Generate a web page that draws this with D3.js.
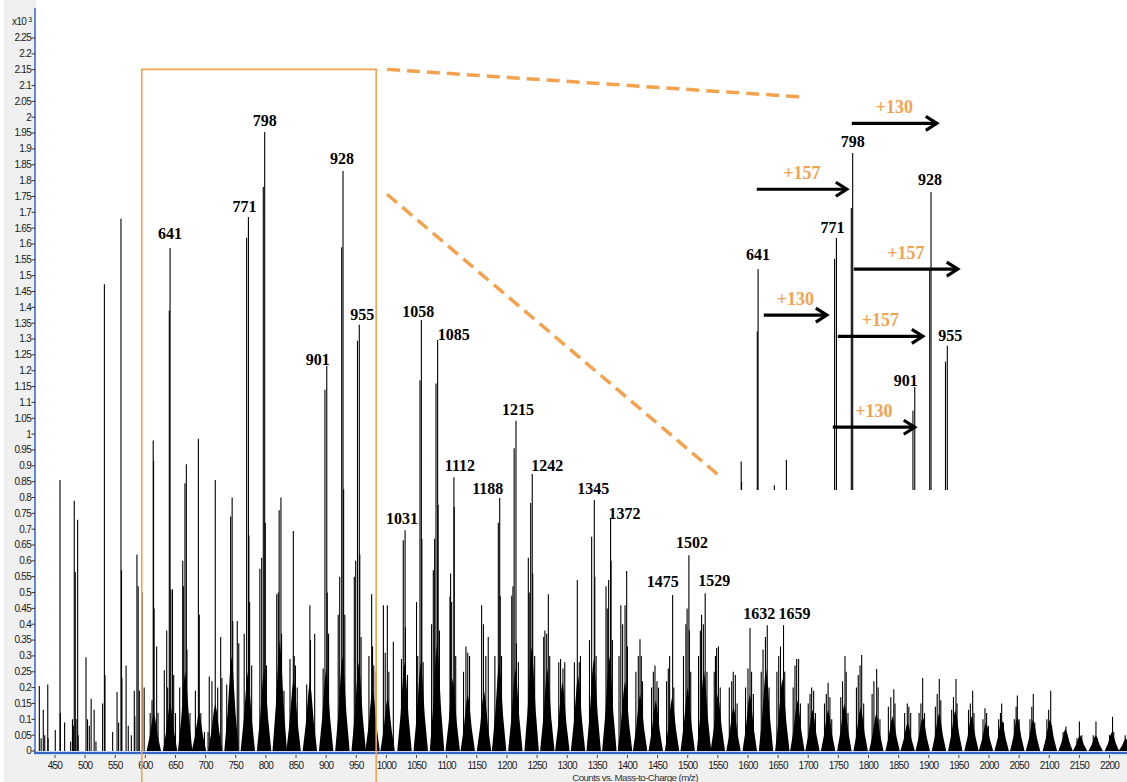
<!DOCTYPE html>
<html><head><meta charset="utf-8">
<script src="https://cdn.jsdelivr.net/npm/d3@7"></script>
<style>
html,body{margin:0;padding:0;background:#fff;}
svg{display:block;}
</style></head><body>
<svg id="chart" width="1127" height="782"></svg>
<script>
// ---- axis ticks ----
const xTicks = [450,500,550,600,650,700,750,800,850,900,950,1000,1050,1100,1150,1200,1250,1300,1350,1400,
  1450,1500,1550,1600,1650,1700,1750,1800,1850,1900,1950,2000,2050,2100,2150,2200];
const yTicks = [0,0.05,0.1,0.15,0.2,0.25,0.3,0.35,0.4,0.45,0.5,0.55,0.6,0.65,0.7,0.75,0.8,0.85,0.9,0.95,
  1,1.05,1.1,1.15,1.2,1.25,1.3,1.35,1.4,1.45,1.5,1.55,1.6,1.65,1.7,1.75,1.8,1.85,1.9,1.95,
  2,2.05,2.1,2.15,2.2,2.25];

// ---- spectrum lines: [m/z, counts x10^3] ----
const sticks = [
  [424,0.205],[427,0.04],[430.6,0.13],[433,0.05],[438,0.21],[438.6,0.04],[450.5,0.066],[458.3,0.855],[458.9,0.12],
  [466,0.09],[476,0.03],[479,0.1],[480.5,0.08],[482,0.79],[483.7,0.565],[485,0.1],[487.6,0.73],[488.5,0.05],
  [501.5,0.296],[504,0.1],[507,0.08],[510,0.165],[515,0.13],[518,0.03],[529,0.15],[532,1.473],[533,0.24],
  [545.7,0.06],[553,0.186],[555.6,0.09],[559.5,1.68],[560.4,0.57],[561,0.23],[568,0.27],[571.6,0.08],[576.7,0.05],
  [581.6,0.19],[582.5,0.11],[586,0.62],[588,0.52],[590,0.19],[594.5,0.5],[598,0.2],
  [608,0.12],[611,0.16],[613,0.98],[613.6,0.915],[614.5,0.45],[618.7,0.33],[621,0.12],
  [631.4,0.255],[635.4,0.38],[637,0.2],[639.7,1.39],[641,1.587],[642.3,0.51],[645,0.51],[647,0.24],[650,0.12],
  [657,0.2],[662,0.6],[663,0.52],[665.7,0.845],[668,0.905],[669,0.32],[674,0.12],
  [683,0.19],[688,0.985],[689.5,0.43],[692,0.12],[698,0.06],[704,0.06],
  [706,0.235],[710.5,0.22],[714,0.1],[716,0.855],[720,0.2],[725,0.36],[727,0.23],
  [735,0.21],[741.5,0.74],[744,0.8],[745,0.41],[752.5,0.41],[755,0.34],
  [764,0.37],[768,1.62],[771,1.685],[771.8,0.68],[773,0.47],[776.4,0.27],
  [790,0.575],[793,0.61],[795.7,1.78],[798,1.953],[799,0.72],[801,0.27],
  [818,0.495],[820.6,0.5],[822,0.76],[825,0.8],[826,0.37],[830,0.19],
  [840,0.29],[845.5,0.694],[847,0.3],[849,0.27],[852,0.2],
  [867.7,0.21],[873,0.46],[874,0.35],[881,0.37],
  [895,0.26],[898,1.14],[901,1.215],[901.8,0.5],[904,0.37],
  [920,0.43],[922.5,0.55],[925.8,1.59],[928,1.83],[929,0.826],[931,0.43],
  [946.7,0.55],[949,0.6],[952,1.295],[955,1.345],[955.8,0.62],[958,0.36],
  [971,0.3],[975.5,0.495],[977,0.33],[979,0.27],[983,0.25],
  [995,0.46],[998,0.31],[1001.5,0.46],[1004,0.25],[1011.5,0.345],
  [1025,0.29],[1028,0.665],[1031,0.697],[1031.6,0.39],[1035,0.24],
  [1050,0.47],[1052,0.3],[1055.7,1.17],[1058,1.36],[1058.8,0.67],[1061,0.28],
  [1075,0.4],[1077.8,0.57],[1080,0.67],[1082.3,1.16],[1085,1.297],[1085.8,0.776],[1088,0.38],
  [1105.5,0.487],[1106.5,0.56],[1108.3,0.47],[1112,0.864],[1112.6,0.77],[1115,0.3],
  [1128,0.25],[1132,0.33],[1135,0.31],[1138,0.3],
  [1158,0.46],[1161,0.4],[1165,0.3],[1169,0.36],
  [1180,0.3],[1185.7,0.72],[1188,0.798],[1188.8,0.49],[1191,0.3],
  [1208,0.49],[1210,0.52],[1212,0.955],[1215,1.042],[1215.8,0.34],[1219,0.28],
  [1235.5,0.61],[1237,0.5],[1239.4,0.783],[1242,0.874],[1242.8,0.56],[1246,0.3],
  [1261,0.36],[1263,0.38],[1266,0.37],[1268.7,0.495],[1271,0.3],
  [1286,0.28],[1289,0.29],[1293,0.26],[1296,0.28],
  [1312,0.28],[1316.8,0.54],[1320,0.28],[1322,0.3],
  [1337,0.35],[1340.6,0.676],[1345,0.792],[1345.8,0.55],[1348,0.3],
  [1364.4,0.52],[1366.5,0.45],[1368.8,0.54],[1372,0.735],[1372.8,0.6],[1375,0.35],
  [1386,0.3],[1389,0.46],[1392,0.4],[1396,0.46],[1398.7,0.568],[1400,0.33],
  [1414,0.25],[1418,0.3],[1420.8,0.353],[1423,0.3],[1425,0.22],
  [1440,0.2],[1443,0.25],[1445.7,0.27],[1449,0.22],[1451.5,0.2],
  [1465,0.22],[1467.8,0.26],[1470,0.3],[1475,0.492],[1477,0.2],
  [1493,0.3],[1497,0.4],[1499,0.45],[1502,0.618],[1502.8,0.38],[1505,0.25],
  [1518,0.3],[1521,0.38],[1523,0.43],[1526,0.4],[1529,0.498],[1532,0.25],
  [1544,0.25],[1546,0.3],[1548,0.325],[1551,0.33],[1554,0.2],
  [1569,0.2],[1573,0.22],[1575.6,0.25],[1579,0.24],[1582,0.15],
  [1596,0.2],[1600,0.26],[1603.4,0.388],[1606,0.25],[1609,0.18],
  [1622,0.25],[1625,0.32],[1629,0.36],[1632,0.397],[1635,0.2],
  [1648,0.25],[1651,0.3],[1654,0.33],[1659,0.397],[1661,0.25],
  [1675,0.2],[1678,0.27],[1680.8,0.29],[1684,0.29],[1687,0.15],
  [1700,0.15],[1703,0.18],[1705.7,0.2],[1709,0.19],[1712,0.12],
  [1727,0.15],[1730,0.18],[1733,0.215],[1736,0.17],[1739,0.1],
  [1754,0.17],[1757,0.22],[1761,0.3],[1763,0.25],[1766,0.12],
  [1780,0.2],[1783,0.24],[1786,0.27],[1788.7,0.303],[1792,0.15],
  [1806,0.18],[1809,0.22],[1813.6,0.259],[1816,0.2],[1819,0.1],
  [1833,0.14],[1837,0.17],[1842,0.195],[1844,0.15],
  [1860,0.12],[1864.4,0.15],[1867,0.14],[1870,0.12],
  [1884,0.12],[1887,0.15],[1889.9,0.23],[1893,0.12],
  [1911,0.14],[1914,0.18],[1917.5,0.227],[1920,0.16],
  [1938,0.13],[1941,0.17],[1945.2,0.227],[1947,0.15],
  [1966,0.13],[1969,0.15],[1972.9,0.19],[1975,0.12],
  [1990,0.1],[1993.3,0.135],[1996,0.12],[1999,0.08],
  [2016,0.1],[2019,0.12],[2021,0.15],[2024,0.09],
  [2042,0.1],[2045,0.14],[2047,0.175],[2050,0.1],
  [2068,0.1],[2071,0.14],[2073.5,0.18],[2076,0.09],
  [2096,0.1],[2099,0.13],[2102.4,0.19],[2104,0.08],
  [2123,0.06],[2126,0.065],[2127.7,0.077],[2130,0.05],
  [2146,0.04],[2150,0.093],[2154,0.05],
  [2173,0.05],[2177.5,0.093],[2180,0.04],
  [2200,0.05],[2205,0.108],[2207,0.06],
  [2226,0.05]
];

// ---- unresolved isotope clusters: centre m/z and height of the dense envelope ----
const clusterCentre = [614,641,666,689,716,743,770,797,823,846,873,900,927,954,977,1002,1030,1057,1084,1110,
  1135,1162,1187,1214,1241,1267,1292,1318,1344,1370,1396,1421,1447,1474,1500,1527,1550,1576,1603,1630,
  1657,1682,1707,1733,1760,1787,1813,1840,1865,1890,1917,1944,1971,1995,2021,2047,2073,2101,2127,2151,
  2177,2204,2227];
const clusterBody = [0.12,0.15,0.25,0.12,0.15,0.3,0.25,0.26,0.35,0.23,0.22,0.26,0.3,0.28,0.2,0.17,0.28,0.28,0.34,0.23,
  0.18,0.19,0.28,0.26,0.33,0.26,0.22,0.24,0.29,0.3,0.22,0.18,0.16,0.17,0.2,0.255,0.18,0.14,0.18,0.26,
  0.23,0.16,0.13,0.13,0.15,0.14,0.12,0.11,0.09,0.11,0.12,0.13,0.11,0.09,0.1,0.11,0.1,0.1,0.07,0.05,
  0.05,0.06,0.04];

// ---- annotated peaks ----
const labelMz = [641,771,798,901,928,955,1031,1058,1085,1112,1188,1215,1242,1345,1372,1475,1502,1529,1632,1659];
// label nudges [dx, dy] in px so neighbouring labels do not collide
const labelShift = [[0,-3],[-4,1],[0,0],[-9,5],[-1,-1],[3,1],[-3,0],[-3,3],[16,6],[6,0],[-12,2],[2,0],[15,3],
  [-1,0],[14,7],[-10,-2],[3,-1],[9,-1],[-8,0],[11,0]];

// ---- mass differences in the enlarged view ----
const arrowFrom  = [796.5, 638.9, 799.8, 650.5, 773.3, 765];
const arrowTo    = [937.6, 788.3, 972.4, 755.1, 914.4, 901];
const arrowLevel = [2.047, 1.839, 1.587, 1.442, 1.375, 1.088];
const arrowText  = ["+130","+157","+157","+130","+157","+130"];

// ---- enlarged window ----
const zoomWindow = [594, 983];
const zoomTop = 2.151;
const insetFloor = 0.89;

// ================= drawing =================
const W = 1127, H = 782;
const svg = d3.select("#chart");
const x = d3.scaleLinear().domain([418.5, 2229]).range([36, 1127]);
const y = d3.scaleLinear().domain([0, 2.25]).range([751, 38]);

const ORANGE = "#f5a24f";
const serif = "'Liberation Serif','Times New Roman',serif";
const sans = "'Liberation Sans',Arial,sans-serif";

// grey frame behind the axes
svg.append("rect").attr("x",0).attr("y",0).attr("width",W).attr("height",H).attr("fill","#fff");
svg.append("rect").attr("x",4).attr("y",0).attr("width",32).attr("height",H).attr("fill","#f0f0f0");
svg.append("rect").attr("x",4).attr("y",755).attr("width",W-4).attr("height",H-755).attr("fill","#f0f0f0");

// envelope glyph of one isotope cluster: a peaked tent with full shoulders
const HALF = 12;
function clusterPath(c, h) {
  return `M${x(c-HALF)},${y(0)}L${x(c-HALF*0.55)},${y(h*0.4)}L${x(c-HALF*0.2)},${y(h*0.85)}L${x(c)},${y(h)}` +
         `L${x(c+HALF*0.2)},${y(h*0.85)}L${x(c+HALF*0.55)},${y(h*0.4)}L${x(c+HALF)},${y(0)}Z`;
}

// spectrum drawing helper
function drawSpectrum(g, lines, withClusters) {
  if (withClusters) {
    g.append("g").selectAll("path").data(clusterCentre).join("path")
      .attr("d", (c, i) => clusterPath(c, clusterBody[i]))
      .attr("fill", "#000");
  }
  g.append("g").selectAll("line").data(lines).join("line")
    .attr("x1", d => x(d[0])).attr("x2", d => x(d[0]))
    .attr("y1", y(0)).attr("y2", d => y(d[1]))
    .attr("stroke", "#000").attr("stroke-width", 1.1);
}

const main = svg.append("g");
drawSpectrum(main, sticks, true);

// peak labels
function drawLabels(g, list) {
  g.append("g").selectAll("text").data(list).join("text")
    .attr("x", d => x(d.mz) + d.s[0])
    .attr("y", d => y(d.v) - 6 + d.s[1])
    .attr("text-anchor", "middle")
    .attr("font-family", serif).attr("font-weight", "bold").attr("font-size", 16)
    .attr("fill", "#000")
    .text(d => d.mz);
}
const labelData = labelMz.map((m, i) => ({
  mz: m, s: labelShift[i], v: sticks.find(s => s[0] === m)[1]
}));
drawLabels(main, labelData);

// axes
svg.append("line").attr("x1",35).attr("x2",35).attr("y1",8).attr("y2",754)
  .attr("stroke","#3f72cc").attr("stroke-width",1.6);
svg.append("line").attr("x1",34).attr("x2",W).attr("y1",753).attr("y2",753)
  .attr("stroke","#3468c6").attr("stroke-width",2.6);

const yAxis = svg.append("g");
yAxis.selectAll("line").data(yTicks).join("line")
  .attr("x1",31.5).attr("x2",35).attr("y1",d=>y(d)).attr("y2",d=>y(d))
  .attr("stroke","#333").attr("stroke-width",1);
yAxis.selectAll("text").data(yTicks).join("text")
  .attr("x",31).attr("y",d=>y(d)+3.4).attr("text-anchor","end")
  .attr("font-family",sans).attr("font-size",10).attr("letter-spacing",-0.75).attr("fill","#1a1a1a")
  .text(d => String(+d.toFixed(2)));

const xAxis = svg.append("g");
xAxis.selectAll("line").data(xTicks).join("line")
  .attr("x1",d=>x(d)).attr("x2",d=>x(d)).attr("y1",755).attr("y2",758)
  .attr("stroke","#444").attr("stroke-width",1);
xAxis.selectAll("text").data(xTicks).join("text")
  .attr("x",d=>x(d)).attr("y",769).attr("text-anchor","middle")
  .attr("font-family",sans).attr("font-size",10).attr("letter-spacing",-0.75).attr("fill","#1a1a1a")
  .text(d => d);

svg.append("text").attr("x",635).attr("y",780.5).attr("text-anchor","middle")
  .attr("font-family",sans).attr("font-size",9.8).attr("letter-spacing",-0.6).attr("fill","#333")
  .text("Counts vs. Mass-to-Charge (m/z)");

const mult = svg.append("text").attr("x",12).attr("y",25)
  .attr("font-family",sans).attr("font-size",10).attr("letter-spacing",-0.6).attr("fill","#1a1a1a");
mult.append("tspan").text("x10");
mult.append("tspan").attr("dx",2).attr("dy",-3).attr("font-size",7).text("3");

// enlarged window frame
svg.append("path")
  .attr("d", `M${x(zoomWindow[0])},${H}V${y(zoomTop)}H${x(zoomWindow[1])}V${H}`)
  .attr("fill","none").attr("stroke",ORANGE).attr("stroke-width",1.6);

// connector lines towards the enlarged view
const connectors = [
  [[1001, 2.151], [1696, 2.063]],
  [[1001, 1.757], [1557, 0.861]]
];
svg.append("g").selectAll("line").data(connectors).join("line")
  .attr("x1",d=>x(d[0][0])).attr("y1",d=>y(d[0][1]))
  .attr("x2",d=>x(d[1][0])).attr("y2",d=>y(d[1][1]))
  .attr("stroke",ORANGE).attr("stroke-width",3.5).attr("stroke-dasharray","13,7");

// enlarged view: the tall lines of the window, shifted right
const inset = svg.append("g").attr("transform","translate(588,21)");
svg.append("defs").append("clipPath").attr("id","insetClip")
  .append("rect").attr("x", x(zoomWindow[0])).attr("y", 0)
  .attr("width", x(zoomWindow[1]) - x(zoomWindow[0])).attr("height", y(insetFloor));
const insetSpec = inset.append("g").attr("clip-path","url(#insetClip)");
drawSpectrum(insetSpec, sticks.filter(s => s[0] >= zoomWindow[0] && s[0] <= zoomWindow[1] && s[1] > insetFloor), false);
drawLabels(inset, labelData.filter(d => d.mz >= zoomWindow[0] && d.mz <= zoomWindow[1]));

// arrows
const arrows = arrowFrom.map((f, i) => ({ f, t: arrowTo[i], v: arrowLevel[i], txt: arrowText[i] }));
const ag = inset.append("g");
ag.selectAll("line").data(arrows).join("line")
  .attr("x1",d=>x(d.f)).attr("x2",d=>x(d.t)-1.5)
  .attr("y1",d=>y(d.v)).attr("y2",d=>y(d.v))
  .attr("stroke","#000").attr("stroke-width",3.2);
ag.selectAll("path").data(arrows).join("path")
  .attr("d",d=>`M${x(d.t)-11},${y(d.v)-7}L${x(d.t)},${y(d.v)}L${x(d.t)-11},${y(d.v)+7}`)
  .attr("fill","none").attr("stroke","#000").attr("stroke-width",3.2);
ag.selectAll("text").data(arrows).join("text")
  .attr("x",d=>(x(d.f)+x(d.t))/2).attr("y",d=>y(d.v)-10)
  .attr("text-anchor","middle")
  .attr("font-family",serif).attr("font-weight","bold").attr("font-size",18)
  .attr("fill",ORANGE)
  .text(d=>d.txt);
</script>
</body></html>
